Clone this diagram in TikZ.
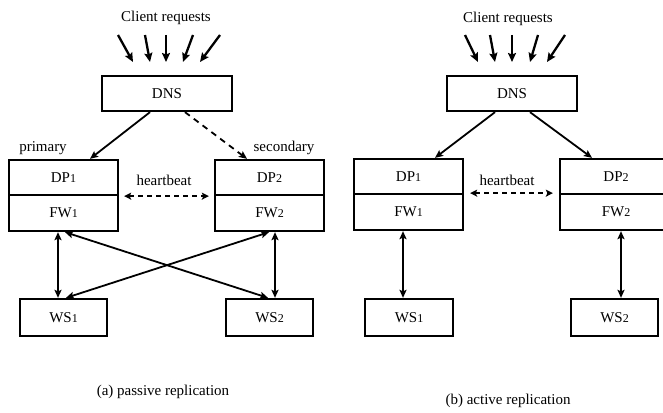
\documentclass[tikz,border=0pt]{standalone}
\usepackage{fontspec}
\setmainfont{Liberation Serif}
\usetikzlibrary{arrows.meta}
% small digits used as indices in the box labels
\newcommand{\osn}[1]{{\fontsize{12}{12}\selectfont #1}}
\begin{document}
\begin{tikzpicture}[x=1pt,y=-1pt,
  every node/.style={font=\fontsize{15}{17}\selectfont},
  box/.style={draw,line width=2.3pt,rectangle,inner sep=0pt,anchor=center},
  lbl/.style={inner sep=0pt,anchor=center},
  tip/.style={},
  arr/.style={line width=1.8pt,-{Stealth[length=8pt,width=7pt,inset=1.5pt]}},
  req/.style={line width=2.3pt,-{Stealth[length=9pt,width=8pt,inset=1.5pt]}},
  darr/.style={line width=1.8pt,{Stealth[length=8pt,width=7pt,inset=1.5pt]}-{Stealth[length=8pt,width=7pt,inset=1.5pt]}},
  hb/.style={line width=1.8pt,dash pattern=on 5pt off 4pt,{Stealth[length=7pt,width=7pt,inset=1.5pt]}-{Stealth[length=7pt,width=7pt,inset=1.5pt]}}]
\useasboundingbox (0,0) rectangle (663,412);
\fill[white] (0,0) rectangle (663,412);
\clip (0,0) rectangle (663,412);

% ---------- (a) passive replication ----------
\node[lbl] (crA) at (166,18) {Client requests};
\foreach \i/\sx/\ex in {1/118/133,2/145/150,3/166/166,4/193/183,5/220/200}{
  \coordinate (cAs\i) at (\sx,35);
  \coordinate (cAe\i) at (\ex,62);
  \draw[req] (cAs\i) -- (cAe\i);
}
\node[box,minimum width=130pt,minimum height=35pt] (dnsA) at (167,93.5) {DNS};
\node[box,minimum width=109pt,minimum height=35pt] (dp1A) at (63.5,177.5) {DP\osn{1}};
\node[box,minimum width=109pt,minimum height=36pt] (fw1A) at (63.5,213) {FW\osn{1}};
\node[box,minimum width=109pt,minimum height=35pt] (dp2A) at (269.5,177.5) {DP\osn{2}};
\node[box,minimum width=109pt,minimum height=36pt] (fw2A) at (269.5,213) {FW\osn{2}};
\node[box,minimum width=87pt,minimum height=37pt] (ws1A) at (63.5,317.5) {WS\osn{1}};
\node[box,minimum width=87pt,minimum height=37pt] (ws2A) at (269.5,317.5) {WS\osn{2}};
\node[lbl] (primA) at (43,148) {primary};
\node[lbl] (secA) at (284,148) {secondary};
\node[lbl] (hbA) at (164,180) {heartbeat};
\node[lbl] (capA) at (163,392) {(a) passive replication};

\draw[arr] ([xshift=-17pt]dnsA.south) -- ([xshift=26.5pt]dp1A.north);
\draw[arr,dash pattern=on 6pt off 5pt] ([xshift=18pt]dnsA.south) -- ([xshift=-22.5pt]dp2A.north);
\draw[hb] ([xshift=5pt]dp1A.south east) -- ([xshift=-5pt]dp2A.south west);
\draw[darr] ([xshift=-5.5pt]fw1A.south) -- ([xshift=-5.5pt]ws1A.north);
\draw[darr] ([xshift=5.5pt]fw2A.south) -- ([xshift=5.5pt]ws2A.north);
\draw[darr] ([xshift=1.5pt]fw1A.south) -- ([xshift=-1.5pt]ws2A.north);
\draw[darr] ([xshift=-0.5pt]fw2A.south) -- ([xshift=2.5pt]ws1A.north);

% ---------- (b) active replication ----------
\node[lbl] (crB) at (508,19) {Client requests};
\foreach \i/\sx/\ex in {1/465/478,2/490/495,3/512/512,4/538/530,5/565/547}{
  \coordinate (cBs\i) at (\sx,35);
  \coordinate (cBe\i) at (\ex,62);
  \draw[req] (cBs\i) -- (cBe\i);
}
\node[box,minimum width=130pt,minimum height=35pt] (dnsB) at (512,93.5) {DNS};
\node[box,minimum width=109pt,minimum height=35pt] (dp1B) at (408.5,176.5) {DP\osn{1}};
\node[box,minimum width=109pt,minimum height=36pt] (fw1B) at (408.5,212) {FW\osn{1}};
\node[box,minimum width=112pt,minimum height=35pt] (dp2B) at (616,176.5) {DP\osn{2}};
\node[box,minimum width=112pt,minimum height=36pt] (fw2B) at (616,212) {FW\osn{2}};
\node[box,minimum width=88pt,minimum height=37pt] (ws1B) at (409,317.5) {WS\osn{1}};
\node[box,minimum width=87pt,minimum height=37pt] (ws2B) at (614.5,317.5) {WS\osn{2}};
\node[lbl] (hbB) at (507,180) {heartbeat};
\node[lbl] (capB) at (508,401) {(b) active replication};

\draw[arr] ([xshift=-17pt]dnsB.south) -- ([xshift=26.5pt]dp1B.north);
\draw[arr] ([xshift=18pt]dnsB.south) -- ([xshift=-24pt]dp2B.north);
\draw[hb] ([xshift=6pt,yshift=2pt]dp1B.south east) -- ([xshift=-6pt,yshift=2pt]dp2B.south west);
\draw[darr] ([xshift=-5.5pt]fw1B.south) -- ([xshift=-6pt]ws1B.north);
\draw[darr] ([xshift=5pt]fw2B.south) -- ([xshift=6.5pt]ws2B.north);
\end{tikzpicture}
\end{document}
